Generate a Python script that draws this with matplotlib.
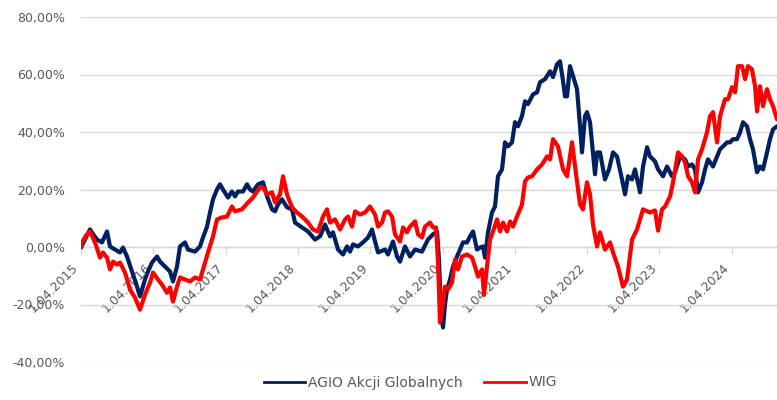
import matplotlib
matplotlib.use("Agg")
import matplotlib.pyplot as plt
from matplotlib.ticker import FixedLocator, FuncFormatter
from matplotlib.lines import Line2D

# ---- data (decimal year, % return) ----
agio_t = [2015.250, 2015.305, 2015.374, 2015.430, 2015.471, 2015.540, 2015.610, 2015.651, 2015.720, 2015.789,
          2015.831, 2015.886, 2015.955, 2016.025, 2016.066, 2016.135, 2016.177, 2016.232, 2016.301, 2016.343,
          2016.412, 2016.481, 2016.522, 2016.578, 2016.619, 2016.688, 2016.730, 2016.827, 2016.896, 2016.937,
          2016.993, 2017.034, 2017.076, 2017.131, 2017.172, 2017.214, 2017.283, 2017.338, 2017.380, 2017.421,
          2017.491, 2017.546, 2017.587, 2017.629, 2017.698, 2017.767, 2017.823, 2017.892, 2017.933, 2017.975,
          2018.030, 2018.099, 2018.168, 2018.210, 2018.307, 2018.390, 2018.486, 2018.556, 2018.625, 2018.694,
          2018.735, 2018.805, 2018.874, 2018.929, 2018.971, 2019.012, 2019.081, 2019.150, 2019.220, 2019.275,
          2019.317, 2019.358, 2019.455, 2019.496, 2019.565, 2019.621, 2019.662, 2019.731, 2019.800, 2019.870,
          2019.966, 2020.049, 2020.118, 2020.174, 2020.201, 2020.229, 2020.257, 2020.284, 2020.312, 2020.354,
          2020.395, 2020.450, 2020.492, 2020.533, 2020.589, 2020.630, 2020.672, 2020.727, 2020.768, 2020.810,
          2020.838, 2020.879, 2020.934, 2020.976, 2021.017, 2021.073, 2021.114, 2021.156, 2021.211, 2021.253,
          2021.294, 2021.349, 2021.391, 2021.432, 2021.502, 2021.557, 2021.598, 2021.668, 2021.737, 2021.778,
          2021.834, 2021.875, 2021.917, 2021.944, 2021.972, 2022.013, 2022.055, 2022.110, 2022.152, 2022.179,
          2022.221, 2022.248, 2022.290, 2022.359, 2022.387, 2022.428, 2022.497, 2022.553, 2022.608, 2022.663,
          2022.733, 2022.774, 2022.816, 2022.871, 2022.912, 2022.982, 2023.023, 2023.079, 2023.120, 2023.189,
          2023.231, 2023.300, 2023.355, 2023.424, 2023.466, 2023.535, 2023.604, 2023.646, 2023.701, 2023.742,
          2023.784, 2023.839, 2023.881, 2023.922, 2023.991, 2024.047, 2024.088, 2024.130, 2024.185, 2024.226,
          2024.268, 2024.323, 2024.365, 2024.406, 2024.461, 2024.503, 2024.544, 2024.600, 2024.641, 2024.683,
          2024.738, 2024.779, 2024.821, 2024.876]
agio_v = [-0.2, 2.6, 6.1, 4.0, 2.6, 1.6, 5.4, 0.2, -0.9, -1.9,
          -0.2, -3.3, -8.5, -13.8, -17.2, -11.3, -8.5, -5.4, -3.3, -5.1,
          -6.8, -8.5, -12.0, -6.8, 0.2, 1.6, -0.9, -1.6, 0.2, 3.3,
          7.1, 12.0, 16.6, 20.0, 21.8, 20.0, 17.2, 19.3, 17.6, 19.3,
          19.3, 21.8, 20.0, 19.3, 21.8, 22.5, 17.6, 13.1, 12.4, 14.8,
          16.6, 13.8, 13.1, 8.5, 6.8, 5.4, 2.6, 3.7, 7.8, 3.7,
          5.1, -0.9, -2.6, 0.2, -1.6, 0.9, 0.2, 1.6, 3.3, 6.1,
          1.9, -1.9, -0.9, -2.6, 1.9, -3.3, -5.1, 0.2, -3.3, -0.9,
          -1.6, 2.6, 4.4, 5.4, -4.4, -23.5, -28.0, -20.0, -14.8, -11.3,
          -6.8, -3.3, -0.9, 1.6, 1.6, 3.7, 5.4, -0.9, -0.2, 0.2,
          -3.7, 5.1, 12.0, 14.1, 24.6, 27.0, 36.4, 35.0, 36.4, 43.4,
          42.0, 45.5, 50.7, 49.7, 53.1, 53.8, 57.3, 58.4, 61.1, 59.1,
          63.6, 64.6, 57.7, 52.4, 52.4, 62.9, 59.4, 54.9, 42.0, 32.9,
          45.5, 46.9, 43.4, 25.3, 32.9, 32.9, 23.5, 27.0, 32.9, 31.5,
          23.5, 18.3, 24.6, 23.5, 27.0, 19.0, 28.0, 34.7, 31.5, 29.8,
          27.0, 24.6, 28.0, 24.6, 26.0, 31.5, 30.5, 28.0, 28.7, 27.0,
          19.0, 22.5, 27.0, 30.5, 28.0, 31.5, 34.0, 35.0, 36.4, 36.4,
          37.5, 37.5, 39.9, 43.4, 42.0, 37.5, 34.0, 26.0, 28.0, 27.0,
          32.9, 37.5, 40.9, 42.0]

wig_t = [2015.250, 2015.264, 2015.319, 2015.374, 2015.444, 2015.513, 2015.554, 2015.610, 2015.651, 2015.693, 2015.748,
         2015.789, 2015.859, 2015.928, 2015.997, 2016.066, 2016.135, 2016.204, 2016.246, 2016.315, 2016.370,
         2016.439, 2016.481, 2016.522, 2016.578, 2016.619, 2016.688, 2016.758, 2016.827, 2016.896, 2016.937,
         2017.007, 2017.076, 2017.131, 2017.200, 2017.269, 2017.338, 2017.380, 2017.477, 2017.560, 2017.629,
         2017.684, 2017.726, 2017.767, 2017.823, 2017.892, 2017.933, 2018.002, 2018.044, 2018.099, 2018.168,
         2018.237, 2018.307, 2018.390, 2018.459, 2018.528, 2018.597, 2018.652, 2018.694, 2018.763, 2018.833,
         2018.902, 2018.943, 2018.998, 2019.040, 2019.109, 2019.178, 2019.247, 2019.317, 2019.358, 2019.413,
         2019.455, 2019.496, 2019.552, 2019.593, 2019.662, 2019.704, 2019.759, 2019.800, 2019.870, 2019.911,
         2019.966, 2020.008, 2020.077, 2020.118, 2020.160, 2020.188, 2020.215, 2020.243, 2020.284, 2020.326,
         2020.381, 2020.423, 2020.464, 2020.519, 2020.589, 2020.658, 2020.699, 2020.741, 2020.796, 2020.824,
         2020.865, 2020.907, 2020.948, 2021.004, 2021.045, 2021.087, 2021.142, 2021.184, 2021.225, 2021.280,
         2021.349, 2021.391, 2021.432, 2021.488, 2021.557, 2021.626, 2021.695, 2021.737, 2021.778, 2021.847,
         2021.917, 2021.972, 2022.041, 2022.083, 2022.152, 2022.193, 2022.248, 2022.290, 2022.331, 2022.387,
         2022.428, 2022.497, 2022.567, 2022.608, 2022.677, 2022.746, 2022.802, 2022.871, 2022.940, 2023.023,
         2023.120, 2023.189, 2023.231, 2023.286, 2023.328, 2023.397, 2023.438, 2023.507, 2023.563, 2023.604,
         2023.646, 2023.701, 2023.742, 2023.784, 2023.839, 2023.908, 2023.950, 2023.991, 2024.047, 2024.088,
         2024.157, 2024.199, 2024.254, 2024.296, 2024.337, 2024.392, 2024.434, 2024.475, 2024.530, 2024.572,
         2024.600, 2024.641, 2024.683, 2024.738, 2024.779, 2024.821, 2024.876]
wig_v = [0.0, 1.6, 4.0, 5.4, 1.6, -3.7, -1.9, -3.7, -7.8, -5.1, -6.1,
         -5.4, -8.9, -14.8, -17.6, -21.8, -16.6, -12.4, -8.9, -11.3, -13.1,
         -15.9, -14.1, -19.0, -13.8, -10.6, -11.3, -12.0, -10.6, -11.3, -7.8,
         -1.9, 3.7, 9.6, 10.3, 10.6, 14.1, 12.4, 13.1, 15.5, 17.2,
         19.3, 20.7, 20.7, 18.3, 19.0, 15.5, 18.3, 24.6, 18.3, 13.8,
         12.0, 10.6, 8.5, 6.1, 5.4, 10.6, 13.1, 8.5, 9.6, 6.1,
         9.6, 10.6, 7.1, 12.4, 11.3, 12.0, 14.1, 11.3, 7.1, 8.5,
         12.0, 12.4, 10.6, 4.4, 1.9, 6.8, 5.1, 7.1, 8.9, 4.4,
         3.3, 7.1, 8.5, 6.8, 6.8, -5.4, -26.3, -21.8, -13.8, -14.8,
         -12.4, -4.4, -7.8, -3.3, -2.6, -3.7, -6.8, -10.3, -7.8, -16.6,
         -6.8, 2.6, 5.4, 9.6, 5.4, 8.5, 5.4, 8.9, 7.1, 10.6,
         14.8, 22.8, 24.2, 24.6, 27.0, 28.7, 31.5, 30.5, 37.5, 35.0,
         27.0, 24.6, 36.4, 28.0, 14.8, 13.1, 22.5, 18.3, 7.8, 0.2,
         5.1, -0.9, 1.6, -1.9, -6.8, -13.8, -11.3, 2.6, 6.1, 13.1,
         12.0, 12.7, 5.7, 13.1, 14.1, 17.6, 22.5, 32.9, 31.5, 29.4,
         24.6, 22.5, 19.0, 30.5, 34.0, 39.9, 45.5, 46.9, 36.4, 45.5,
         51.4, 51.4, 55.6, 53.8, 62.9, 62.9, 58.4, 62.9, 61.8, 55.9,
         47.2, 55.9, 49.0, 54.9, 51.4, 49.0, 44.4]

series_names = ["AGIO Akcji Globalnych", "WIG"]
series_colors = ["#002060", "#FF0000"]
tick_years = list(range(2015, 2025))
tick_labels = [f"1.04.{y}" for y in tick_years]
y_ticks = [-40, -20, 0, 20, 40, 60, 80]

# ---- plot ----
plt.rcParams['font.family'] = ['DejaVu Sans']
text_color = "#595959"
grid_color = "#D9D9D9"
fs_axis = 9
fs_leg = 10

fig = plt.figure(figsize=(7.77, 4.0), dpi=100)
ax = fig.add_axes([81/777, 1 - 362/400, 1 - 81/777, (362 - 17)/400])

ax.plot(agio_t, agio_v, color=series_colors[0], lw=3.0,
        solid_joinstyle='round', solid_capstyle='round', zorder=3)
ax.plot(wig_t, wig_v, color=series_colors[1], lw=3.0,
        solid_joinstyle='round', solid_capstyle='round', zorder=4)

for s in ['top', 'right', 'left']:
    ax.spines[s].set_visible(False)
ax.spines['bottom'].set_position(('data', 0))
ax.spines['bottom'].set_color(grid_color)
ax.spines['bottom'].set_linewidth(1.0)
ax.spines['bottom'].set_zorder(1)

ax.set_xlim(agio_t[0], agio_t[-1])
ax.set_ylim(-40, 80)

ax.yaxis.set_major_locator(FixedLocator(y_ticks))
ax.yaxis.set_major_formatter(FuncFormatter(lambda v, p: f"{v:.2f}%".replace(".", ",")))
ax.grid(axis='y', color=grid_color, lw=1.0, zorder=0)
ax.set_axisbelow(True)

ax.set_xticks([y + 0.25 for y in tick_years])
ax.set_xticklabels(tick_labels)

ax.tick_params(axis='y', length=0, pad=11.5, labelsize=fs_axis, labelcolor=text_color)
ax.tick_params(axis='x', length=5, width=1, color=grid_color, pad=5,
               labelsize=fs_axis, labelcolor=text_color, labelrotation=45)
for lbl in ax.get_xticklabels():
    lbl.set_ha('right')
    lbl.set_va('top')

handles = [Line2D([], [], color=c, lw=2.0) for c in series_colors]
leg = fig.legend(handles, series_names, loc='lower center', bbox_to_anchor=(0.528, -0.005), ncol=2,
                 frameon=False, fontsize=fs_leg, handlelength=3.0, columnspacing=1.6, handletextpad=0.15)
for t in leg.get_texts():
    t.set_color(text_color)

fig.savefig("out.png", dpi=100)
